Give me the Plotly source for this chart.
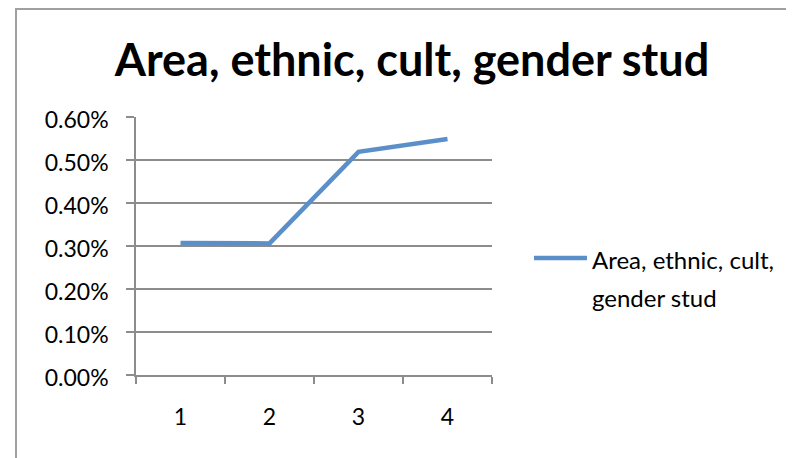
import plotly.graph_objects as go

# data
categories = ["1", "2", "3", "4"]
values = [0.00307, 0.00306, 0.00519, 0.00549]
series_name = "Area, ethnic, cult, gender stud"
legend_lines = ["Area, ethnic, cult,", "gender stud"]

FONT = "Lato, Calibri, sans-serif"
GRID = "#8c8c8c"
BLUE = "#5b8fc9"

# the page body adds an 8px margin, so work in shifted pixel coords
OFF = 8
W, H = 794 - OFF, 458 - OFF
L, R, T, B = 136 - OFF, 492 - OFF, 117 - OFF, 375 - OFF


def px_x(p):
    return (p - OFF - L) / (R - L)


def px_y(p):
    return (B - (p - OFF)) / (B - T)


fig = go.Figure()

fig.add_trace(go.Scatter(
    x=categories,
    y=values,
    mode="lines",
    name=series_name,
    line=dict(color=BLUE, width=4.5),
    showlegend=False,
))

fig.update_layout(
    width=W,
    height=H,
    margin=dict(l=L, r=W - R, t=T, b=H - B, autoexpand=False),
    paper_bgcolor="white",
    plot_bgcolor="white",
    font=dict(family=FONT, size=23, color="black"),
    title=dict(
        text="<b>" + series_name + "</b>",
        font=dict(family=FONT, size=45, color="black"),
        x=px_x(412), xref="paper", xanchor="center",
        y=1 - (60 - OFF) / H, yref="container", yanchor="middle",
    ),
    showlegend=False,
)

fig.update_xaxes(
    type="category",
    range=[-0.5, 3.5],
    tickson="boundaries",
    ticks="outside",
    ticklen=7,
    tickcolor=GRID,
    tickwidth=1.5,
    showline=True,
    linecolor=GRID,
    linewidth=1.5,
    showgrid=False,
    ticklabelstandoff=21,
    fixedrange=True,
)

fig.update_yaxes(
    range=[0, 0.006],
    dtick=0.001,
    tickformat=".2%",
    ticks="outside",
    ticklen=8,
    tickcolor=GRID,
    tickwidth=1.5,
    showline=True,
    linecolor=GRID,
    linewidth=1.5,
    showgrid=True,
    gridcolor=GRID,
    gridwidth=1.5,
    zeroline=False,
    ticklabelstandoff=13,
    ticklabelshift=3,
    fixedrange=True,
)

# legend drawn by hand: line sample plus two text lines
fig.add_shape(
    type="line", xref="paper", yref="paper",
    x0=px_x(534), x1=px_x(587), y0=px_y(258), y1=px_y(258),
    line=dict(color=BLUE, width=4.5),
)
for i, txt in enumerate(legend_lines):
    fig.add_annotation(
        text=txt, xref="paper", yref="paper",
        x=px_x(590), y=px_y(259 + 38 * i),
        xanchor="left", yanchor="middle", showarrow=False,
        font=dict(family=FONT, size=24, color="black"),
    )

# chart border (cropped on the right and bottom; top sits at the page edge)
fig.add_shape(
    type="rect", xref="paper", yref="paper",
    x0=px_x(16), x1=px_x(830), y0=px_y(490), y1=px_y(9),
    line=dict(color="#a0a0a0", width=2),
    layer="below",
)

fig.write_html("out.html")
